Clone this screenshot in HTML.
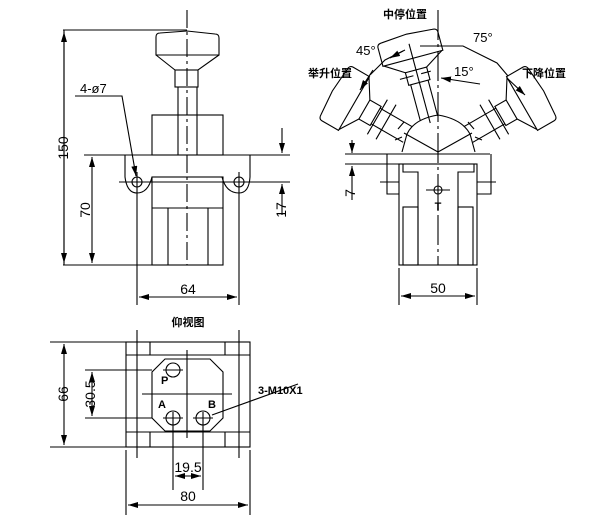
<!DOCTYPE html>
<html><head><meta charset="utf-8"><style>
html,body{margin:0;padding:0;background:#fff}
svg{display:block}
text{font-family:"Liberation Sans","Noto Sans CJK SC",sans-serif;fill:#000}
.c{font-family:"Liberation Sans","Noto Sans CJK SC",sans-serif;font-weight:bold;font-size:11px}
</style></head><body>
<svg width="600" height="520" viewBox="0 0 600 520" xmlns="http://www.w3.org/2000/svg">
<defs>
<marker id="a" viewBox="0 0 10 6" refX="10" refY="3" markerWidth="10" markerHeight="6" orient="auto-start-reverse" markerUnits="userSpaceOnUse"><path d="M0,0L10,3L0,6z" fill="#000"/></marker>
<g id="lev" fill="none" stroke="#000" stroke-width="1.1">
<path d="M-9,-35V-72M9,-35V-72"/>
<rect x="-11" y="-85" width="22" height="13"/>
<path d="M-11,-85L-30,-97M11,-85L30,-97"/>
<path d="M-31,-97V-116Q-31,-120 -26,-120L0,-122L26,-120Q31,-120 31,-116V-97Z"/>
</g>
</defs>
<g fill="none" stroke="#000" stroke-width="1.1">
<!-- LEFT VIEW -->
<path d="M187,10V265" stroke-dasharray="18,4,3,4"/>
<path d="M63,30H187M64,30V265" />
<path d="M64,32V263" marker-start="url(#a)" marker-end="url(#a)"/>
<path d="M63,265H223"/>
<path d="M156,55V37Q156,33 160,33L187,31L215,34Q219,34 219,38V55Z"/>
<path d="M156,55L175,70H198L219,55"/>
<rect x="175" y="70" width="23" height="17"/>
<path d="M178,87V118M197,87V155M178,118V155"/>
<rect x="152" y="115" width="71" height="40"/>
<path d="M84,155H290"/>
<path d="M125,155V177Q127,193 137,193Q148,193 152,177H222Q226,193 239,193Q249,193 250,177V155"/>
<path d="M119,182H290"/>
<circle cx="137" cy="182" r="5"/><circle cx="239" cy="182" r="5"/>
<path d="M137,172V305M239,172V305"/>
<rect x="152" y="177" width="71" height="88"/>
<path d="M152,208H223M168,208V265M208,208V265"/>
<path d="M92,157V263" marker-start="url(#a)" marker-end="url(#a)"/>
<path d="M282,128V153" marker-end="url(#a)"/>
<path d="M282,215V184" marker-end="url(#a)"/>
<path d="M139,297H237" marker-start="url(#a)" marker-end="url(#a)"/>
<path d="M75,96H122L136,176" marker-end="url(#a)"/>
<!-- RIGHT VIEW -->
<path d="M438,10V265" stroke-dasharray="30,4,3,4"/>
<path d="M345,154H490M345,164H399"/>
<path d="M387,154V194H399M491,154V194H477"/>
<rect x="399" y="164" width="78" height="101"/>
<path d="M403,164V172H418V265M474,164V172H458V265"/>
<rect x="403" y="207" width="15" height="58"/><rect x="458" y="207" width="15" height="58"/>
<path d="M380,182H399M477,182H496"/>
<circle cx="438" cy="190" r="4"/><path d="M426,190H450"/>
<path d="M399,268V305M477,268V305"/>
<path d="M401,296H475" marker-start="url(#a)" marker-end="url(#a)"/>
<path d="M352,140V153" marker-end="url(#a)"/>
<path d="M352,200V166" marker-end="url(#a)"/>
<path d="M402,152L407,134Q414,119 438,115Q462,119 470,134L475,152"/>
<path d="M438,152L404,133M438,152L472,133"/>
<path d="M398,129L404,122M468,122L474,129M395,140L402,137M475,137L482,140"/>
<g transform="translate(438,152) rotate(-15)"><use href="#lev"/><path d="M0,-30V-112"/><path d="M-18,-80H-4M4,-80H14"/></g>
<g transform="translate(438,152) rotate(-60)"><use href="#lev"/><path d="M-20,-70H20M-20,-60H20"/></g>
<g transform="translate(438,152) rotate(60)"><use href="#lev"/><path d="M-20,-70H20M-20,-60H20"/></g>
<path d="M370,75L385,60L405,50M420,46H463L497,63L508,76"/>
<path d="M403,51L390,58" marker-end="url(#a)"/>
<path d="M480,84L441,78" marker-end="url(#a)"/>
<path d="M373,70L360,90" marker-end="url(#a)"/>
<path d="M507,78L525,95" marker-end="url(#a)"/>
<!-- BOTTOM VIEW -->
<rect x="126" y="342" width="124" height="105"/>
<path d="M126,355H250M126,432H250M150,342V355M225,342V355M150,432V447M225,432V447"/>
<path d="M137,330V458M239,330V458"/>
<path d="M165,359H210L223,372V418L210,431H165L152,418V372Z"/>
<path d="M187,350V438M142,394H232"/>
<circle cx="173" cy="370" r="7"/><circle cx="173" cy="418" r="7"/><circle cx="203" cy="418" r="7"/>
<path d="M163,370H183M163,418H183M193,418H213M173,412V490M203,412V490"/>
<path d="M50,342H126M50,447H126M85,370H152M85,418H152"/>
<path d="M64,344V445" marker-start="url(#a)" marker-end="url(#a)"/>
<path d="M92,372V416" marker-start="url(#a)" marker-end="url(#a)"/>
<path d="M175,476H201" marker-start="url(#a)" marker-end="url(#a)"/>
<path d="M126,450V515M250,450V515"/>
<path d="M128,505H248" marker-start="url(#a)" marker-end="url(#a)"/>
<path d="M298,384L212,415"/>
</g>
<g font-size="14">
<text x="80" y="93" font-size="13">4-ø7</text>
<text transform="translate(68,148) rotate(-90)" text-anchor="middle">150</text>
<text transform="translate(90,210) rotate(-90)" text-anchor="middle">70</text>
<text transform="translate(286,210) rotate(-90)" text-anchor="middle">17</text>
<text x="188" y="294" text-anchor="middle">64</text>
<text x="438" y="293" text-anchor="middle">50</text>
<text transform="translate(355,193) rotate(-90)" text-anchor="middle">7</text>
<text x="356" y="55" font-size="13">45°</text>
<text x="473" y="42" font-size="13">75°</text>
<text x="454" y="76" font-size="13">15°</text>
<text transform="translate(68,394) rotate(-90)" text-anchor="middle">66</text>
<text transform="translate(95,394) rotate(-90)" text-anchor="middle">30.5</text>
<text x="188" y="472" text-anchor="middle">19.5</text>
<text x="188" y="501" text-anchor="middle">80</text>
</g>
<text class="c" x="405" y="18" text-anchor="middle">中停位置</text>
<text class="c" x="330" y="77" text-anchor="middle">举升位置</text>
<text class="c" x="544" y="77" text-anchor="middle">下降位置</text>
<text class="c" x="188" y="326" text-anchor="middle">仰视图</text>
<text class="c" x="438" y="210" text-anchor="middle" font-size="10">T</text>
<text class="c" x="161" y="384" font-size="10">P</text>
<text class="c" x="158" y="408" font-size="10">A</text>
<text class="c" x="208" y="408" font-size="10">B</text>
<text class="c" x="258" y="394" font-size="11">3-M10X1</text>
</svg>
</body></html>
